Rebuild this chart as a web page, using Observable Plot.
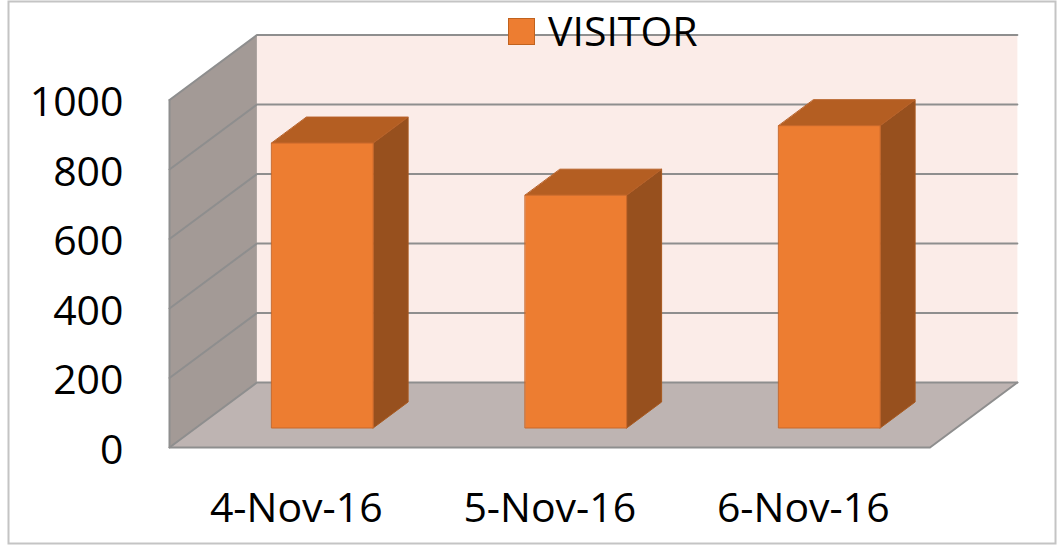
<!DOCTYPE html>
<html>
<head>
<meta charset="utf-8">
<script src="https://cdn.jsdelivr.net/npm/d3@7"></script>
<script src="https://cdn.jsdelivr.net/npm/@observablehq/plot@0.6"></script>
<style>
  html, body { margin: 0; padding: 0; background: #fff; }
  #wrap { position: relative; width: 1061px; height: 549px; font-family: "Open Sans", sans-serif; }
  #legend { position: absolute; left: 508px; top: 2px; display: flex; align-items: center; gap: 13px; font-size: 41px; color: #000; }
  #legend .sw { width: 27px; height: 27px; margin-top: 2px; background: #ED7D31; border: 1px solid #C0621E; box-sizing: border-box; }
</style>
</head>
<body>
<div id="wrap"><div id="legend"><div class="sw"></div><span>VISITOR</span></div></div>
<script>
// ---- data ----
const dates = ["4-Nov-16", "5-Nov-16", "6-Nov-16"];
const visitors = [820, 670, 870];
const yTicks = [0, 200, 400, 600, 800, 1000];
const seriesName = "VISITOR";

// ---- oblique 3D projection in data units ----
const kx = 0.3447;  // category units per unit depth
const kv = 187;     // value units per unit depth
const P = (x, z, v) => ({x: x + z * kx, y: v + z * kv});
const poly = (id, pts) => pts.map(([x, z, v]) => ({id, ...P(x, z, v)}));

const n = dates.length;
const vMax = yTicks[yTicks.length - 1];

const backWall = poly("back", [[0,1,0],[n,1,0],[n,1,vMax],[0,1,vMax]]);
const floor = poly("floor", [[0,0,0],[n,0,0],[n,1,0],[0,1,0]]);
const leftWall = poly("left", [[0,0,0],[0,1,0],[0,1,vMax],[0,0,vMax]]);
const grid = yTicks.flatMap(t => poly("g" + t, [[0,0,t],[0,1,t],[n,1,t]]));
const outline = [
  ...poly("o1", [[0,0,vMax],[0,0,0],[n,0,0],[n,1,0]])
];

const w0 = 0.3, w1 = 0.7, z0 = 0.3, z1 = 0.7;
const fronts = [], tops = [], sides = [];
visitors.forEach((v, i) => {
  const a = i + w0, b = i + w1;
  fronts.push(...poly("f" + i, [[a,z0,0],[b,z0,0],[b,z0,v],[a,z0,v]]));
  tops.push(...poly("t" + i, [[a,z0,v],[b,z0,v],[b,z1,v],[a,z1,v]]));
  sides.push(...poly("s" + i, [[b,z0,0],[b,z1,0],[b,z1,v],[b,z0,v]]));
});

const face = (data, fill, stroke, sw = 1) =>
  Plot.line(data, {x: "x", y: "y", z: "id", fill, stroke, strokeWidth: sw, curve: "linear-closed"});

const chart = Plot.plot({
  width: 1061,
  height: 549,
  marginLeft: 8, marginTop: 1, marginRight: 6, marginBottom: 6,
  style: {fontFamily: "'Open Sans', sans-serif", background: "transparent", overflow: "visible"},
  x: {type: "linear", domain: [0, n], range: [169, 929.5], axis: null},
  y: {type: "linear", domain: [0, vMax], range: [447, 99.5], axis: null},
  marks: [
    Plot.frame({stroke: "#c4c4c4", strokeWidth: 2}),
    face(backWall, "#FBECE8", "none"),
    face(floor, "#BEB4B2", "none"),
    face(leftWall, "#A39A96", "none"),
    Plot.line(grid, {x: "x", y: "y", z: "id", stroke: "#8E8E8E", strokeWidth: 2}),
    Plot.line(outline, {x: "x", y: "y", z: "id", stroke: "#8E8E8E", strokeWidth: 2}),
    face(sides, "#97501E", "#A8591F", 1),
    face(tops, "#B45E22", "#B8622A", 1),
    face(fronts, "#ED7D31", "#C8682A", 1),
    Plot.text(yTicks, {x: () => 0, y: d => d, text: d => String(d), textAnchor: "end", dx: -46, dy: 3, fontSize: 41, fill: "#000"}),
    Plot.text(dates, {x: (d, i) => i + 0.5, y: () => 0, text: d => d, textAnchor: "middle", dy: 61, fontSize: 41, fill: "#000"})
  ]
});
document.getElementById("wrap").prepend(chart);
</script>
</body>
</html>
